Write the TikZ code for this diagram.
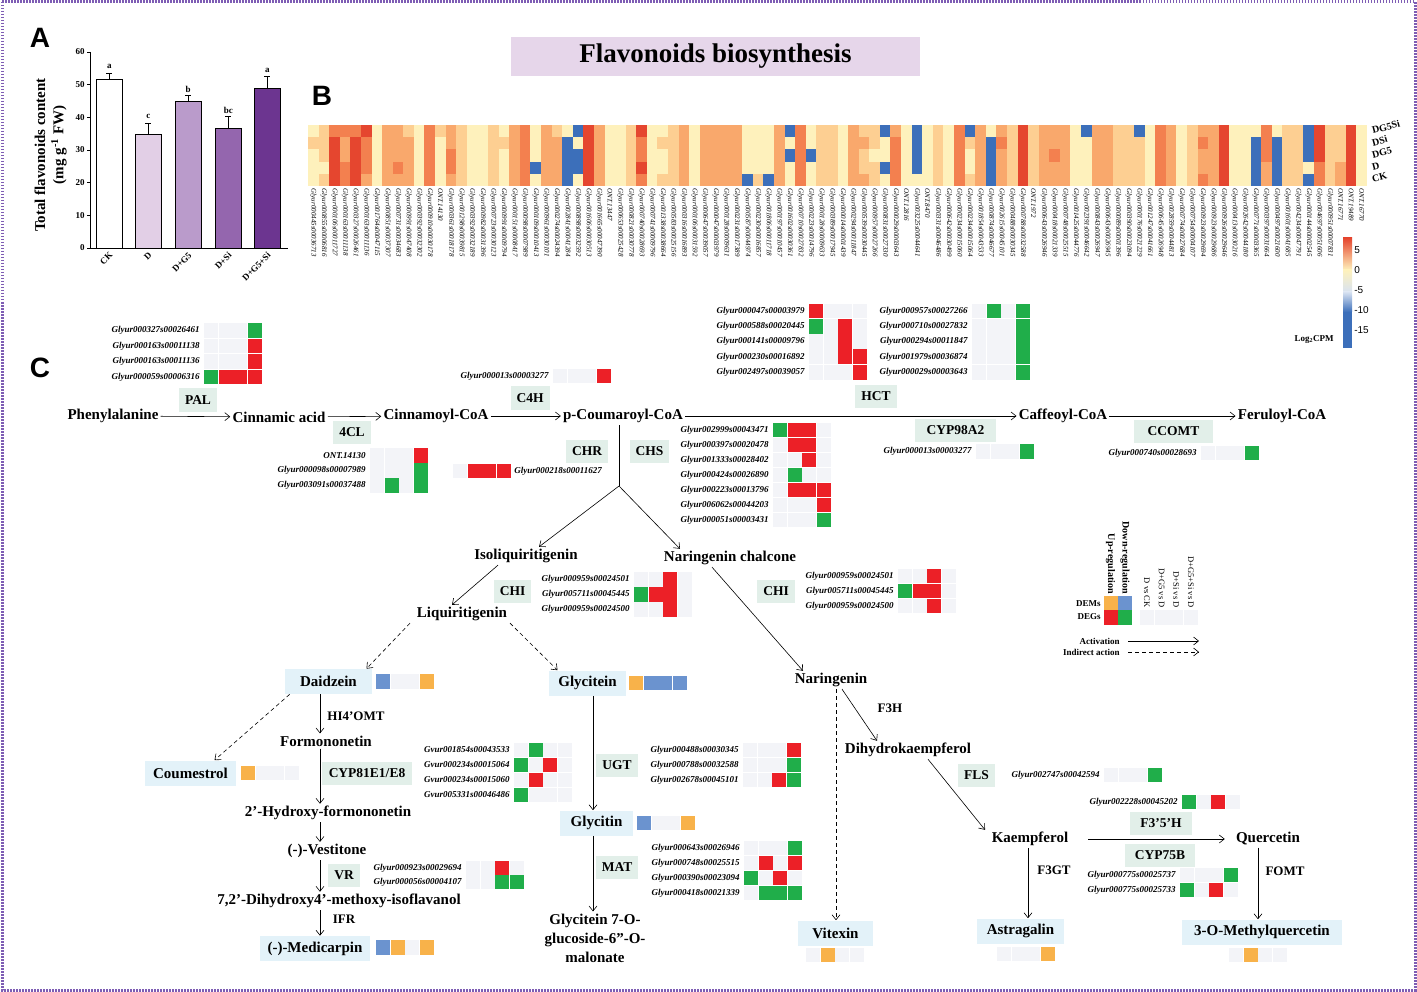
\documentclass[tikz,border=0pt]{standalone}
\usepackage{fontspec}
\setmainfont{Liberation Serif}
\newfontfamily\panelfont{Liberation Sans}
\usepackage{tikz}
\usetikzlibrary{arrows.meta}

\definecolor{hm1}{HTML}{FEF1BC}
\definecolor{hm2}{HTML}{FDCF92}
\definecolor{hm3}{HTML}{F9A86C}
\definecolor{hm4}{HTML}{F3804F}
\definecolor{hm5}{HTML}{E5462F}
\definecolor{hmb}{HTML}{3C6FBA}
\definecolor{cellr}{HTML}{EC2027}
\definecolor{cellg}{HTML}{20AE4A}
\definecolor{celle}{HTML}{F3F4F8}
\definecolor{cello}{HTML}{F8B24A}
\definecolor{cellb}{HTML}{6B93CF}
\definecolor{boxblue}{HTML}{E3F2F9}
\definecolor{enzbox}{HTML}{E2EFE9}
\definecolor{titlebox}{HTML}{E6D6EA}
\definecolor{framepurple}{HTML}{7E5DB4}
\definecolor{barD}{HTML}{E2CFE6}
\definecolor{barDG}{HTML}{BA9BCB}
\definecolor{barDS}{HTML}{9466AE}
\definecolor{barDGS}{HTML}{6C3590}

\tikzset{
  >={Straight Barb[length=5pt,width=8pt]},
  every path/.append style={line width=0.6pt},
  indirect/.style={dash pattern=on 4pt off 3pt},
  compound/.style={font=\fontsize{15}{17}\selectfont\bfseries, inner sep=2pt},
  cbox/.style={compound, fill=boxblue, minimum height=25pt, inner xsep=8pt},
  enzyme/.style={font=\fontsize{13.5}{15}\selectfont\bfseries, fill=enzbox, minimum height=23pt, inner xsep=6pt},
  enzlabel/.style={font=\fontsize{13}{15}\selectfont\bfseries, inner sep=1pt},
  gene/.style={font=\fontsize{9}{10}\selectfont\bfseries\itshape, anchor=east, inner sep=1pt},
  hmlabel/.style={font=\fontsize{7}{8}\selectfont\itshape, rotate=-90, anchor=west, inner sep=0.5pt},
  legend/.style={font=\fontsize{9}{10}\selectfont\bfseries, inner sep=1pt},
  axislabel/.style={font=\fontsize{9}{10}\selectfont\bfseries, inner sep=1pt},
  panel/.style={font=\fontsize{28}{30}\selectfont\panelfont\bfseries, inner sep=0pt},
}

% one row of expression cells: x of first cell, y centre, colours
\newcommand{\hcells}[3]{%
  \foreach \cc [count=\k] in {#3}
    \fill[cell\cc] ({#1+(\k-1)*14.6},{#2-7.4}) rectangle ++(14,14.8);
}
% gene name (right edge at x) followed by its cells
\newcommand{\gene}[5]{%
  \node[gene] (#1) at (#2,#3) {#4};
  \hcells{#2+3}{#3}{#5}
}

\begin{document}
\begin{tikzpicture}[x=1pt, y=-1pt]
\useasboundingbox (0,0) rectangle (1417,992);
\draw[framepurple, line width=3pt, dash pattern=on 1.5pt off 1.5pt] (2,2) rectangle (1415,990);

% ---- A: bar chart
\node[panel] (pA) at (40,38) {A};
\draw[line width=0.7pt] (90,52) -- (90,248) -- (288,248);
\foreach \v in {0,10,...,60} {
  \draw[line width=0.7pt] (87,{248-\v*3.267}) -- (90,{248-\v*3.267});
  \node[axislabel, anchor=east] (tick\v) at (86,{248-\v*3.267}) {\v};
}
\foreach \lab/\x/\val/\err/\fc/\sig [count=\n] in
  {CK/96/51.5/2.1/white/a, D/135/34.8/3.5/barD/c, D+G5/175/44.9/1.9/barDG/b,
   D+Si/215/36.5/3.9/barDS/bc, D+G5+Si/254/48.8/3.8/barDGS/a} {
  \fill[\fc, draw=black, line width=0.6pt] (\x,248) rectangle ({\x+26.5},{248-\val*3.267});
  \draw[line width=0.6pt] ({\x+13.25},{248-\val*3.267}) -- ({\x+13.25},{248-(\val+\err)*3.267})
    ++(-3,0) -- ++(6,0);
  \node[axislabel] (sig\n) at ({\x+13.25},{248-(\val+\err)*3.267-6}) {\sig};
  \node[axislabel, rotate=45, anchor=east] (grp\n) at ({\x+16},253) {\lab};
}
\node[font=\fontsize{15}{17}\selectfont\bfseries, rotate=90] (ylab1) at (40,155) {Total flavonoids content};
\node[font=\fontsize{15}{17}\selectfont\bfseries, rotate=90] (ylab2) at (59,145) {(mg g\textsuperscript{-1} FW)};

% ---- title
\node[fill=titlebox, minimum width=409pt, minimum height=39pt,
      font=\fontsize{27}{30}\selectfont\bfseries] (title) at (715.5,56.5) {Flavonoids biosynthesis};

% ---- B: heatmap
\node[panel] (pB) at (322,96) {B};
\foreach \col [count=\i] in {
  {1,2,1,1,1},{2,2,2,1,2},{4,5,5,5,5},{4,3,3,4,4},{4,5,5,5,5},{5,4,4,4,3},{1,1,1,1,1},{3,3,3,3,3},{3,3,3,4,3},{2,3,3,3,3},
  {1,1,1,1,1},{4,4,4,4,4},{2,1,1,1,1},{3,3,4,4,3},{2,2,2,2,2},{1,1,1,1,1},{1,1,1,1,1},{2,2,2,2,2},{1,2,1,1,1},{3,3,3,3,3},
  {4,4,4,4,4},{1,1,1,b,1},{3,3,3,3,3},{2,3,3,3,3},{1,b,b,b,b},{b,1,b,b,1},{5,5,5,5,5},{3,3,3,3,3},{1,1,1,1,1},{1,1,1,1,1},
  {2,2,2,2,2},{5,4,4,5,4},{1,1,1,1,1},{1,2,1,1,2},{2,2,2,2,2},{3,3,3,3,3},{1,1,1,1,1},{3,3,3,3,3},
  {3,3,3,3,3},{3,3,3,3,3},{3,3,3,3,3},{1,1,1,1,b},{1,1,1,1,2},{1,1,1,1,b},{3,3,3,3,3},{b,1,b,1,1},{4,4,4,4,4},{1,1,b,1,1},
  {2,2,2,2,2},{2,2,2,2,2},{1,1,1,1,1},{3,3,3,3,3},{2,3,2,2,3},{2,2,1,2,2},{b,1,1,b,1},{3,4,4,4,4},{1,1,1,1,1},{b,b,b,b,1},
  {1,1,1,1,1},{2,2,2,2,2},{1,1,1,1,1},{4,4,4,4,4},{b,2,1,1,2},{3,3,3,3,3},{1,b,b,b,b},{3,4,3,3,3},{2,2,2,2,2},{5,5,5,5,5},
  {2,2,2,2,2},{3,3,3,3,3},{3,3,4,3,3},{3,3,3,3,3},{1,1,1,1,1},{b,1,1,1,1},{3,3,3,3,3},{3,3,3,3,3},{2,2,2,2,2},
  {2,2,2,2,2},{b,2,2,2,2},{1,1,1,1,1},{4,4,4,4,4},{3,3,3,3,3},{1,1,1,1,1},{2,2,2,2,2},{3,4,3,3,4},{3,3,3,3,3},{5,5,5,5,5},
  {1,1,1,1,1},{1,1,1,1,1},{1,b,b,b,b},{4,4,4,3,3},{1,b,b,b,b},{2,2,2,2,2},{2,2,2,2,2},{b,b,b,1,b},{5,5,5,4,4},{2,2,2,2,2},
  {2,2,2,3,3},{5,5,5,5,5},{1,1,1,1,1}}
  \foreach \v [count=\j] in \col
    \fill[hm\v] ({308+(\i-1)*10.59},{125+(\j-1)*12.2}) rectangle ++(10.62,12.25);
\foreach \lab [count=\i] in {
  Glyur000445s00036713,Glyur000855s00006816,Glyur000106s00011727,Glyur000163s00011138,Glyur000327s00026461,
  Glyur000163s00011136,Glyur001764s00047115,Glyur000851s00037307,Glyur000731s00034683,Glyur000991s00047408,
  Glyur000392s00032302,Glyur000910s00030178,ONT.14130,Glyur000361s00018178,Glyur001298s00039815,
  Glyur000392s00032189,Glyur000982s00031396,Glyur000723s00030123,Glyur000991s00009794,Glyur000151s00008417,
  Glyur000098s00007989,Glyur000109s00010413,Glyur000961s00030101,Glyur000274s00024394,Glyur002841s00041284,
  Glyur000898s00032592,Glyur001606s00030513,Glyur001665s00047390,ONT.13447,Glyur000653s00025428,
  Glyur000821s00030778,Glyur000740s00028693,Glyur000741s00009796,Glyur001338s00038664,Glyur000583s00025156,
  Glyur000316s00016893,Glyur000106s00031592,Glyur000647s00039057,Glyur000047s00003979,Glyur000128s00009631,
  Glyur000231s00017389,Glyur000587s00044974,Glyur000230s00016857,Glyur001806s00011718,Glyur000197s00010457,
  Glyur001602s00030361,Glyur000710s00027832,Glyur000223s00014796,Glyur000128s00009633,Glyur000389s00017945,
  Glyur000014s00001439,Glyur000294s00011847,Glyur000539s00030445,Glyur000957s00027266,Glyur000831s00027330,
  Glyur000029s00003643,ONT.12816,Glyur003225s00044641,ONT.8470,Glyur000331s00046486,
  Glyur000642s00030499,Glyur000234s00015060,Glyur000234s00015064,Glyur001854s00043533,Glyur000874s00046677,
  Glyur002615s00045101,Glyur000488s00030345,Glyur000788s00032588,ONT.1972,Glyur000643s00026946,
  Glyur000418s00021339,Glyur000748s00025515,Glyur001425s00044776,Glyur002391s00046642,Glyur000843s00026947,
  Glyur000643s00026945,Glyur000089s00001396,Glyur000390s00023094,Glyur000176s00021229,Glyur001247s00041661,
  Glyur000645s00026948,Glyur002859s00044813,Glyur000774s00027684,Glyur000754s00004107,Glyur000923s00029694,
  Glyur000923s00029686,Glyur000926s00029646,Glyur000413s00030216,Glyur002642s00044180,Glyur000771s00003365,
  Glyur000397s00031664,Glyur000497s00021600,Glyur001601s00041685,Glyur004234s00047791,Glyur000144s00002545,
  Glyur004697s00051606,Glyur000951s00007831,ONT.16771,ONT.19489,ONT.16770}
  \node[hmlabel] (hl\i) at ({308+(\i-0.5)*10.59},188) {\lab};
\foreach \r [count=\j] in {DG5Si,DSi,DG5,D,CK}
  \node[font=\fontsize{10}{11}\selectfont\bfseries, rotate=15, anchor=west, inner sep=1pt] (row\j)
    at (1371,{131+(\j-1)*12.2}) {\r};
% colour key
\shade[top color=hm5, bottom color=hm1] (1343,238) rectangle (1352,270);
\shade[top color=hm1, bottom color=hmb!20] (1343,270) rectangle (1352,292);
\shade[top color=hmb!20, bottom color=hmb] (1343,292) rectangle (1352,312);
\fill[hmb] (1343,312) rectangle (1352,348);
\foreach \t/\y [count=\n] in {5/250,0/270,-5/290,-10/310,-15/330}
  \node[font=\fontsize{10}{11}\selectfont\panelfont, anchor=west, inner sep=1pt] (key\n) at (1353,\y) {\t};
\node[font=\fontsize{9}{10}\selectfont\bfseries] (keyname) at (1314,340) {Log\textsubscript{2}CPM};

% ---- C: pathway
\node[panel] (pC) at (40,368) {C};
\node[compound] (phe) at (113,416) {Phenylalanine};
\node[compound] (cin) at (279,417) {Cinnamic acid};
\node[compound] (cinco) at (436,416) {Cinnamoyl-CoA};
\node[compound] (pcou) at (623,416) {p-Coumaroyl-CoA};
\node[compound] (caf) at (1063,416) {Caffeoyl-CoA};
\node[compound] (fer) at (1282,416) {Feruloyl-CoA};
\node[compound] (isoliq) at (526,556) {Isoliquiritigenin};
\node[compound] (narch) at (730,558) {Naringenin chalcone};
\node[compound] (liq) at (462,614) {Liquiritigenin};
\node[compound] (nar) at (831,680) {Naringenin};
\node[cbox, minimum width=87pt] (daid) at (328.5,681.5) {Daidzein};
\node[cbox, minimum width=77pt] (glyc) at (587.5,683) {Glycitein};
\node[compound] (formo) at (326,741) {Formononetin};
\node[cbox, minimum width=89pt] (coum) at (190.5,773) {Coumestrol};
\node[compound] (hydro) at (328,813) {2'-Hydroxy-formononetin};
\node[compound] (vest) at (327,851) {(-)-Vestitone};
\node[compound] (isofl) at (339,901) {7,2'-Dihydroxy4'-methoxy-isoflavanol};
\node[cbox, minimum width=110pt] (medi) at (315,948.5) {(-)-Medicarpin};
\node[cbox, minimum width=73pt] (glycn) at (596.5,823) {Glycitin};
\node[compound, font=\fontsize{15}{19}\selectfont\bfseries, align=center] (malo) at (595,938)
  {Glycitein 7-O-\\glucoside-6''-O-\\malonate};
\node[compound] (dhk) at (908,750) {Dihydrokaempferol};
\node[compound] (kae) at (1030,839) {Kaempferol};
\node[compound] (que) at (1268,839) {Quercetin};
\node[cbox, minimum width=75pt] (vit) at (835.5,933) {Vitexin};
\node[cbox, minimum width=87pt] (astr) at (1020.5,931) {Astragalin};
\node[cbox, minimum width=160pt] (mque) at (1262,932) {3-O-Methylquercetin};

% enzymes
\node[enzyme] (pal) at (198,400) {PAL};
\node[enzyme] (fcl) at (352,432) {4CL};
\node[enzyme] (cfh) at (530,398) {C4H};
\node[enzyme] (chr) at (587,451.5) {CHR};
\node[enzyme] (chs) at (649.5,451.5) {CHS};
\node[enzyme] (hct) at (876,396.5) {HCT};
\node[enzyme, minimum width=81pt] (cyp98) at (955.5,430.5) {CYP98A2};
\node[enzyme, minimum width=79pt] (ccomt) at (1173.5,431.5) {CCOMT};
\node[enzyme] (chia) at (512.5,591.5) {CHI};
\node[enzyme] (chib) at (776,591.5) {CHI};
\node[enzyme, minimum width=90pt] (cyp81) at (367,773) {CYP81E1/E8};
\node[enzyme] (ugt) at (617,765.5) {UGT};
\node[enzyme] (mat) at (617,867.5) {MAT};
\node[enzyme] (vr) at (344,875.5) {VR};
\node[enzyme] (fls) at (976.5,775.5) {FLS};
\node[enzyme, minimum width=62pt] (fff) at (1161,823) {F3'5'H};
\node[enzyme, minimum width=70pt] (cyp75) at (1160,855) {CYP75B};
\node[enzlabel] (hiomt) at (356,716) {HI4'OMT};
\node[enzlabel] (ifr) at (344,919) {IFR};
\node[enzlabel] (fth) at (890,708) {F3H};
\node[enzlabel] (fgt) at (1054,870) {F3GT};
\node[enzlabel] (fomt) at (1285,871) {FOMT};

% reactions
\draw[->] (phe) -- (cin);
\draw[->] (cin) -- (cinco);
\draw[->] (cinco) -- (pcou);
\draw[->] (pcou) -- (caf);
\draw[->] (caf) -- (fer);
\coordinate (branch) at (619,486);
\draw (pcou.south -| branch) -- (branch);
\draw[->] (branch) -- ([xshift=13pt]isoliq.north);
\draw[->] (branch) -- ([xshift=-50pt]narch.north);
\draw[->] ([xshift=-28pt]isoliq.south) -- ([xshift=-10pt]liq.north);
\draw[->] ([xshift=-18pt]narch.south) -- ([xshift=-28pt]nar.north);
\draw[->, indirect] ([xshift=-52pt]liq.south) -- ([xshift=38pt]daid.north);
\draw[->, indirect] ([xshift=48pt]liq.south) -- ([xshift=-30pt]glyc.north);
\coordinate (isoaxis) at (320,0);
\draw[->] (daid.south -| isoaxis) -- (formo.north -| isoaxis);
\draw[->, indirect] ([xshift=5pt]daid.south west) -- ([xshift=24pt]coum.north);
\draw[->] (formo.south -| isoaxis) -- (hydro.north -| isoaxis);
\draw[->] (hydro.south -| isoaxis) -- (vest.north -| isoaxis);
\draw[->] (vest.south -| isoaxis) -- (isofl.north -| isoaxis);
\draw[->] (isofl.south -| isoaxis) -- (medi.north -| isoaxis);
\coordinate (glyaxis) at (593,0);
\draw[->] (glyc.south -| glyaxis) -- (glycn.north -| glyaxis);
\draw[->] (glycn.south -| glyaxis) -- (malo.north -| glyaxis);
\coordinate (vitaxis) at (836,0);
\draw[->, indirect] (nar.south -| vitaxis) -- (vit.north -| vitaxis);
\draw[->] ([xshift=11pt]nar.south) -- ([xshift=-31pt]dhk.north);
\draw[->] ([xshift=20pt]dhk.south) -- ([xshift=-45pt]kae.north);
\draw[->, shorten <=18pt, shorten >=9pt] (kae) -- (que);
\draw[->] ([xshift=-2pt]kae.south) -- ([xshift=-2pt]kae.south |- astr.north);
\draw[->] ([xshift=-10pt]que.south) -- ([xshift=-10pt]que.south |- mque.north);

% genes and their cells
\gene{pala}{201}{330.5}{Glyur000327s00026461}{e,e,e,g}
\gene{palb}{201}{346}{Glyur000163s00011138}{e,e,e,r}
\gene{palc}{201}{361.5}{Glyur000163s00011136}{e,e,e,r}
\gene{pald}{201}{377}{Glyur000059s00006316}{g,r,r,r}
\gene{fcla}{367}{455.5}{ONT.14130}{e,e,e,r}
\gene{fclb}{367}{470.5}{Glyur000098s00007989}{e,e,e,g}
\gene{fclc}{367}{485.5}{Glyur003091s00037488}{e,g,e,g}
\hcells{453}{471}{e,r,r,r}
\node[gene, anchor=west] (chrg) at (513,471) {Glyur000218s00011627};
\gene{cfhg}{550}{376}{Glyur000013s00003277}{e,e,e,r}
\gene{hcta}{806}{311}{Glyur000047s00003979}{r,e,e,e}
\gene{hctb}{806}{326.3}{Glyur000588s00020445}{g,e,r,e}
\gene{hctc}{806}{341.6}{Glyur000141s00009796}{e,e,r,e}
\gene{hctd}{806}{356.9}{Glyur000230s00016892}{e,e,r,r}
\gene{hcte}{806}{372.2}{Glyur002497s00039057}{e,e,e,r}
\gene{hctf}{969}{311}{Glyur000957s00027266}{e,g,e,g}
\gene{hctg}{969}{326.3}{Glyur000710s00027832}{e,e,e,g}
\gene{hcth}{969}{341.6}{Glyur000294s00011847}{e,e,e,g}
\gene{hcti}{969}{356.9}{Glyur001979s00036874}{e,e,e,g}
\gene{hctj}{969}{372.2}{Glyur000029s00003643}{e,e,e,g}
\gene{chsa}{770}{430}{Glyur002999s00043471}{g,r,r,e}
\gene{chsb}{770}{445}{Glyur000397s00020478}{e,r,r,e}
\gene{chsc}{770}{460}{Glyur001333s00028402}{e,e,r,e}
\gene{chsd}{770}{475}{Glyur000424s00026890}{e,g,e,e}
\gene{chse}{770}{490}{Glyur000223s00013796}{e,r,r,r}
\gene{chsf}{770}{505}{Glyur006062s00044203}{e,e,e,r}
\gene{chsg}{770}{520}{Glyur000051s00003431}{e,e,e,g}
\gene{cypa}{973}{451.5}{Glyur000013s00003277}{e,e,e,g}
\gene{ccoa}{1198}{453}{Glyur000740s00028693}{e,e,e,g}
\gene{chia1}{631}{579.5}{Glyur000959s00024501}{e,e,r,e}
\gene{chia2}{631}{594.5}{Glyur005711s00045445}{g,r,r,e}
\gene{chia3}{631}{609.5}{Glyur000959s00024500}{e,e,r,e}
\gene{chib1}{895}{576}{Glyur000959s00024501}{e,e,r,e}
\gene{chib2}{895}{591}{Glyur005711s00045445}{g,r,r,e}
\gene{chib3}{895}{606}{Glyur000959s00024500}{e,e,r,e}
\gene{cypb1}{511}{750}{Gvur001854s00043533}{e,g,e,e}
\gene{cypb2}{511}{765}{Gvur000234s00015064}{g,e,r,e}
\gene{cypb3}{511}{780}{Gvur000234s00015060}{e,r,e,e}
\gene{cypb4}{511}{795}{Gvur005331s00046486}{g,e,e,e}
\gene{ugta}{740}{750}{Glyur000488s00030345}{e,e,e,r}
\gene{ugtb}{740}{765}{Glyur000788s00032588}{e,e,e,g}
\gene{ugtc}{740}{780}{Glyur002678s00045101}{e,e,r,g}
\gene{mata}{741}{848}{Glyur000643s00026946}{e,e,e,g}
\gene{matb}{741}{863}{Glyur000748s00025515}{e,r,e,r}
\gene{matc}{741}{878}{Glyur000390s00023094}{g,e,r,e}
\gene{matd}{741}{893}{Glyur000418s00021339}{e,g,g,g}
\gene{vra}{463}{868}{Glyur000923s00029694}{e,e,r,e}
\gene{vrb}{463}{882}{Glyur000056s00004107}{e,e,g,g}
\gene{flsa}{1101}{775}{Glyur002747s00042594}{e,e,e,g}
\gene{fffa}{1179}{802}{Glyur002228s00045202}{g,e,r,e}
\gene{cypc1}{1177}{875}{Glyur000775s00025737}{e,e,e,g}
\gene{cypc2}{1177}{890}{Glyur000775s00025733}{g,e,r,e}
% metabolite cells
\hcells{376}{681.5}{b,e,e,o}
\hcells{629}{683}{o,b,b,b}
\hcells{241}{773}{o,e,e,e}
\hcells{637}{823}{b,e,e,o}
\hcells{376}{947.5}{b,o,e,o}
\hcells{806}{955}{e,o,e,e}
\hcells{997}{954}{e,e,e,o}
\hcells{1229}{955}{e,o,e,e}

% legend
\hcells{1103.5}{603}{o,b}
\hcells{1103.5}{617.5}{r,g}
\hcells{1140}{617.5}{e,e,e,e}
\node[legend, anchor=east] (dems) at (1102,604) {DEMs};
\node[legend, anchor=east] (degs) at (1102,617) {DEGs};
\node[legend, font=\fontsize{10}{11}\selectfont\bfseries, rotate=-90, anchor=east] (up) at (1110.5,595) {Up-regulation};
\node[legend, font=\fontsize{10}{11}\selectfont\bfseries, rotate=-90, anchor=east] (down) at (1125,595) {Down-regulation};
\foreach \t [count=\n] in {D vs CK,D+G5 vs D,D+Si vs D,D+G5+Si vs D}
  \node[font=\fontsize{8.5}{9}\selectfont, rotate=-90, anchor=east, inner sep=1pt] (cmp\n)
    at ({1147+(\n-1)*14.6},609) {\t};
\node[legend, anchor=east] (act) at (1121,641) {Activation};
\node[legend, anchor=east] (ind) at (1121,652) {Indirect action};
\draw[->] ([xshift=7pt]act.east) -- ([xshift=78pt]act.east);
\draw[->, indirect] ([xshift=7pt]ind.east) -- ([xshift=78pt]ind.east);
\end{tikzpicture}
\end{document}
